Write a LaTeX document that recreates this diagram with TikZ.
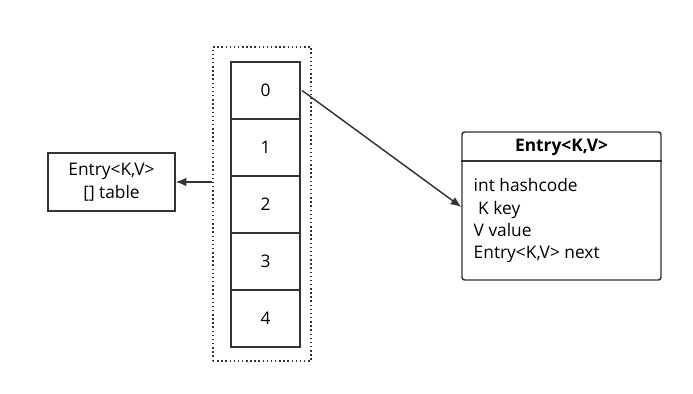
\documentclass[tikz,border=0pt]{standalone}
\usepackage{fontspec}
\setmainfont{Open Sans}
\usetikzlibrary{arrows.meta}

\begin{document}
\begin{tikzpicture}[x=0.75pt, y=-0.75pt, line width=1.1pt, draw=black!80,
  cell/.style={draw=black!80, minimum width=69*0.75pt, minimum height=57*0.75pt, inner sep=0pt, font=\fontsize{13}{14}\selectfont},
  arr/.style={-{Latex[length=8pt, width=6.5pt]}, black!80}]
  \useasboundingbox (0,0) rectangle (693,393);
  % table of buckets
  \node[draw=black!80, dotted, minimum width=98*0.75pt, minimum height=314*0.75pt, inner sep=0pt] (tbl) at (262,204) {};
  \foreach \i in {0,...,4}
    \node[cell] (c\i) at (265.5,{90.5+57*\i}) {\i};
  % left box
  \node[draw=black!80, minimum width=127*0.75pt, minimum height=58*0.75pt, inner sep=0pt, align=center,
    font=\fontsize{13}{17}\selectfont] (arr) at (111.5,182) {Entry<K,V>\\{[}] table};
  \draw[arr] (tbl.west |- arr.east) -- (arr.east);
  % entry box
  \node[draw=black!80, rounded corners=2pt, minimum width=199*0.75pt, minimum height=148*0.75pt, inner sep=0pt] (entry) at (561.5,206) {};
  \draw (entry.west |- 0,161) -- (entry.east |- 0,161);
  \node[font=\bfseries\fontsize{13}{14}\selectfont] (title) at (561.5,147) {Entry<K,V>};
  \node[anchor=north west, align=left, inner sep=0pt, font=\fontsize{13}{16.75}\selectfont] (fields) at (473,178)
    {int hashcode\\ \ K key\\ V value\\ Entry<K,V> next};
  \draw[arr] ([xshift=1pt]c0.east) -- (entry.west |- 0,207);
\end{tikzpicture}
\end{document}
